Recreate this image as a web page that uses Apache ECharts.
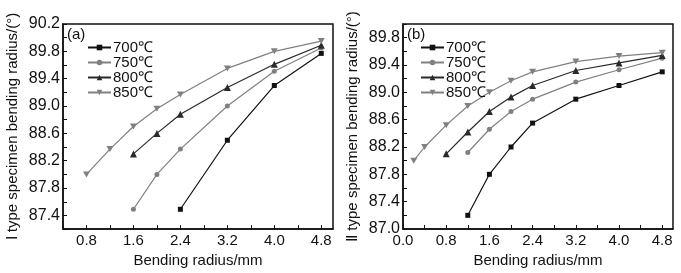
<!DOCTYPE html>
<html>
<head>
<meta charset="utf-8">
<script src="https://cdn.jsdelivr.net/npm/echarts@6/dist/echarts.min.js"></script>
<style>
html, body { margin: 0; padding: 0; background: #fff; }
#box { width: 681px; height: 273px; }
</style>
</head>
<body>
<div id="box"></div>
<script>
// (a) type I specimen
var a700x = [2.4, 3.2, 4.0, 4.8];
var a700y = [87.49, 88.5, 89.3, 89.77];
var a750x = [1.6, 2.0, 2.4, 3.2, 4.0, 4.8];
var a750y = [87.49, 88.0, 88.37, 89.0, 89.51, 89.85];
var a800x = [1.6, 2.0, 2.4, 3.2, 4.0, 4.8];
var a800y = [88.3, 88.6, 88.88, 89.27, 89.61, 89.89];
var a850x = [0.8, 1.2, 1.6, 2.0, 2.4, 3.2, 4.0, 4.8];
var a850y = [88.0, 88.37, 88.7, 88.96, 89.17, 89.55, 89.8, 89.95];

// (b) type II specimen
var b700x = [1.2, 1.6, 2.0, 2.4, 3.2, 4.0, 4.8];
var b700y = [87.2, 87.8, 88.2, 88.55, 88.9, 89.1, 89.3];
var b750x = [1.2, 1.6, 2.0, 2.4, 3.2, 4.0, 4.8];
var b750y = [88.12, 88.46, 88.72, 88.9, 89.15, 89.33, 89.5];
var b800x = [0.8, 1.2, 1.6, 2.0, 2.4, 3.2, 4.0, 4.8];
var b800y = [88.1, 88.42, 88.72, 88.93, 89.1, 89.32, 89.43, 89.54];
var b850x = [0.2, 0.4, 0.8, 1.2, 1.6, 2.0, 2.4, 3.2, 4.0, 4.8];
var b850y = [88.0, 88.2, 88.52, 88.8, 89.0, 89.17, 89.3, 89.45, 89.53, 89.58];

var names = ["700℃", "750℃", "800℃", "850℃"];
var colors = ["#111", "#808080", "#2a2a2a", "#808080"];
var symbols = ["rect", "circle", "triangle", "path://M0,0 L10,0 L5,9 Z"];

function pairs(xs, ys) {
	var out = [];
	for (var i = 0; i < xs.length; i++) out.push([xs[i], ys[i]]);
	return out;
}

function every(step, start) {
	return function (v) {
		var k = (v - start) / step;
		if (Math.abs(k - Math.round(k)) < 1e-6) return v.toFixed(1);
		return '';
	};
}

var font = "Liberation Sans, Arial, sans-serif";

function xAxisOf(grid, min, start) {
	return {
		type: 'value', gridIndex: grid, min: min, max: 5.0, interval: 0.4,
		name: 'Bending radius/mm', nameLocation: 'middle', nameGap: 22,
		nameTextStyle: { fontSize: 15, color: '#111', fontFamily: font },
		axisLine: { show: true, onZero: false, lineStyle: { color: '#111', width: 1.5 } },
		axisTick: { inside: true, length: 4, lineStyle: { color: '#111' } },
		axisLabel: { fontSize: 15, color: '#111', fontFamily: font, margin: 4, formatter: every(0.8, start), showMaxLabel: false },
		splitLine: { show: false }
	};
}

function yAxisOf(grid, min, max, start, name) {
	return {
		type: 'value', gridIndex: grid, min: min, max: max, interval: 0.2,
		name: name, nameLocation: 'middle', nameGap: 43,
		nameTextStyle: { fontSize: 15, color: '#111', fontFamily: font },
		axisLine: { show: true, onZero: false, lineStyle: { color: '#111', width: 1.5 } },
		axisTick: { inside: true, length: 4, lineStyle: { color: '#111' } },
		axisLabel: { fontSize: 16, color: '#111', fontFamily: font, margin: 3, formatter: every(0.4, start) },
		splitLine: { show: false }
	};
}

var sets = [
	[a700x, a700y], [a750x, a750y], [a800x, a800y], [a850x, a850y],
	[b700x, b700y], [b750x, b750y], [b800x, b800y], [b850x, b850y]
];

var series = [];
for (var s = 0; s < sets.length; s++) {
	var k = s % 4, g = s < 4 ? 0 : 1;
	series.push({
		name: names[k], type: 'line', xAxisIndex: g, yAxisIndex: g,
		data: pairs(sets[s][0], sets[s][1]),
		symbol: symbols[k], symbolSize: k == 3 ? [7, 6] : (k == 2 ? 7 : 5),
		showSymbol: true, animation: false,
		itemStyle: { color: colors[k] },
		lineStyle: { color: colors[k], width: 1.2 }
	});
}

function legendOf(left) {
	return {
		orient: 'vertical', left: left, top: 35, itemGap: 0,
		itemWidth: 23, itemHeight: 7,
		textStyle: { fontSize: 15, color: '#111', fontFamily: font, lineHeight: 13.5, padding: [0, 0, 0, -3] },
		data: names, selectedMode: false
	};
}

var myChart = echarts.init(document.getElementById("box"));
var option = {
	backgroundColor: '#fff',
	animation: false,
	grid: [
		{ left: 63, right: 348, top: 24, bottom: 43, show: true, borderColor: '#111', borderWidth: 1.5 },
		{ left: 403, right: 8, top: 24, bottom: 44, show: true, borderColor: '#111', borderWidth: 1.5 }
	],
	xAxis: [xAxisOf(0, 0.4, 0.8), xAxisOf(1, 0, 0)],
	yAxis: [
		yAxisOf(0, 87.2, 90.2, 87.4, 'Ⅰ type specimen bending radius/(°)'),
		yAxisOf(1, 87.0, 90.0, 87.0, 'Ⅱ type specimen bending radius/(°)')
	],
	legend: [legendOf(82), legendOf(415)],
	graphic: [
		{ type: 'text', left: 67, top: 27, style: { text: '(a)', fontSize: 15, fill: '#111', fontFamily: font } },
		{ type: 'text', left: 407, top: 27, style: { text: '(b)', fontSize: 15, fill: '#111', fontFamily: font } }
	],
	series: series
};
myChart.setOption(option);
</script>
</body>
</html>
